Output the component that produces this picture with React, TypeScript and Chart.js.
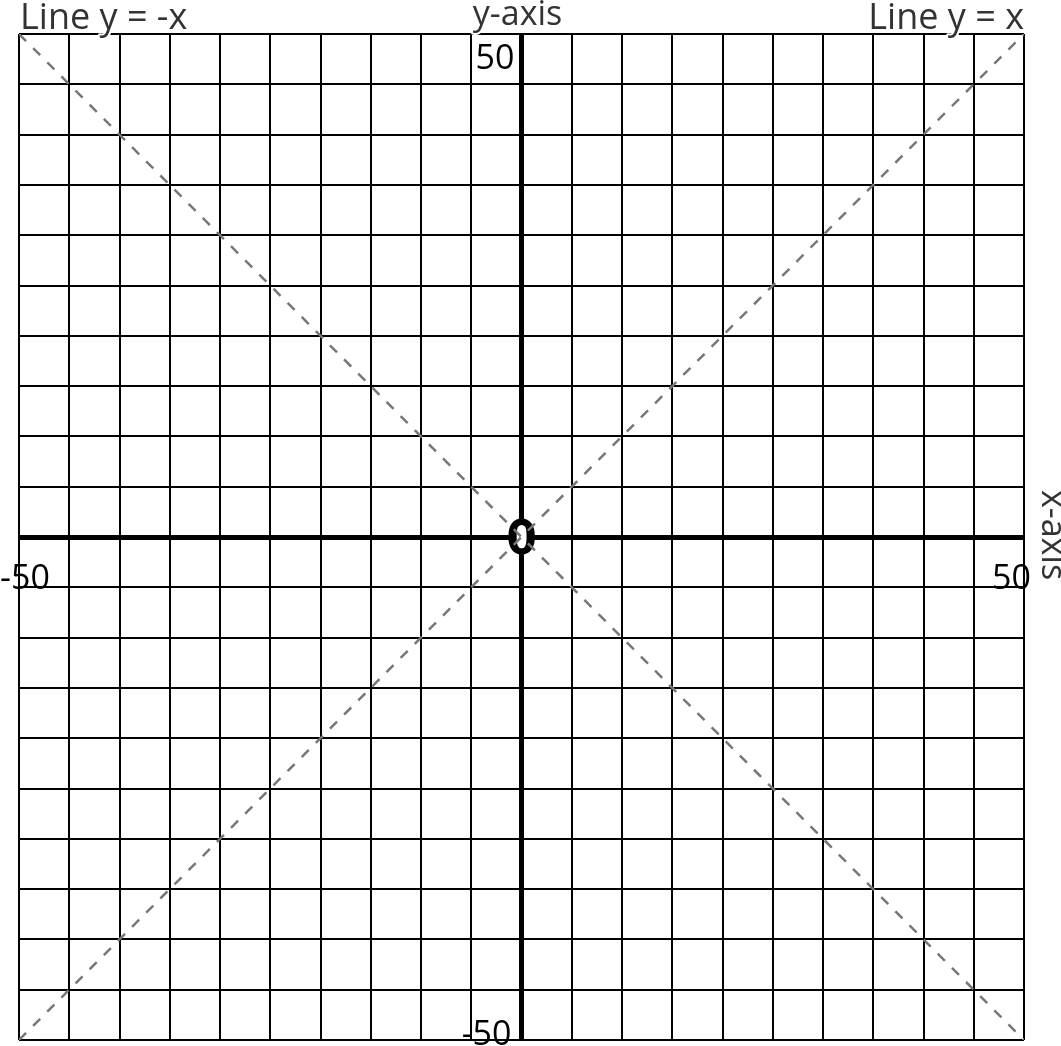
import React, { useEffect, useRef } from "react";
import { Chart, registerables } from "chart.js";

Chart.register(...registerables);

const axisMin = -50;
const axisMax = 50;
const gridStep = 5;
const lineYeqX = [
  { x: -50, y: -50 },
  { x: 50, y: 50 },
];
const lineYeqNegX = [
  { x: -50, y: 50 },
  { x: 50, y: -50 },
];
const cornerLabels = ["Line y = -x", "y-axis", "Line y = x", "x-axis"];
const axisNumbers = ["50", "-50", "0"];

const FONT = '"Open Sans", "DejaVu Sans", sans-serif';

const labelPlugin = {
  id: "labels",
  beforeDatasetsDraw(chart: any) {
    const ctx = chart.ctx;
    const xs = chart.scales.x;
    const ys = chart.scales.y;
    const ox = xs.getPixelForValue(0);
    const oy = ys.getPixelForValue(0);
    ctx.save();
    ctx.fillStyle = "#fff";
    ctx.beginPath();
    ctx.ellipse(ox, oy, 8, 12, 0, 0, Math.PI * 2);
    ctx.fill();
    ctx.fillStyle = "#000";
    ctx.font = `bold 48px "DejaVu Sans", sans-serif`;
    ctx.textAlign = "center";
    ctx.textBaseline = "alphabetic";
    ctx.translate(ox, oy + 17);
    ctx.scale(0.92, 1);
    ctx.fillText(axisNumbers[2], 0, 0);
    ctx.restore();
  },
  afterDraw(chart: any) {
    const ctx = chart.ctx;
    const xs = chart.scales.x;
    const ys = chart.scales.y;
    const ox = xs.getPixelForValue(0);
    const oy = ys.getPixelForValue(0);
    const { left, right, top, bottom } = chart.chartArea;
    ctx.save();
    const txt = (s: string, x: number, y: number, align: any, color: string, size: number, stroke = true) => {
      ctx.font = `${size}px ${FONT}`;
      ctx.textAlign = align;
      ctx.textBaseline = "alphabetic";
      if (stroke) {
        ctx.strokeStyle = "#fff";
        ctx.lineWidth = 4;
        ctx.lineJoin = "round";
        ctx.strokeText(s, x, y);
      }
      ctx.fillStyle = color;
      ctx.fillText(s, x, y);
    };
    txt(cornerLabels[0], left + 1, top - 5, "left", "#333", 36);
    txt(cornerLabels[1], ox - 4, top - 9, "center", "#333", 34);
    txt(cornerLabels[2], right, top - 5, "right", "#333", 36);
    txt(axisNumbers[0], ox - 7, top + 35, "right", "#000", 34, false);
    txt(axisNumbers[1], 0, oy + 52, "left", "#000", 34, false);
    txt(axisNumbers[0], right + 7, oy + 52, "right", "#000", 34, false);
    txt(axisNumbers[1], ox - 10, bottom + 5, "right", "#000", 34, false);
    ctx.translate(right + 11, oy - 2);
    ctx.rotate(Math.PI / 2);
    ctx.font = `34px ${FONT}`;
    ctx.textAlign = "center";
    ctx.textBaseline = "bottom";
    ctx.fillStyle = "#333";
    ctx.fillText(cornerLabels[3], 0, 0);
    ctx.restore();
  },
};

export default function App() {
  const ref = useRef<HTMLCanvasElement>(null);
  useEffect(() => {
    if (!ref.current) return;
    const gridWidth = (c: any) => (c.tick && c.tick.value === 0 ? 5 : 2);
    const scale = {
      type: "linear" as const,
      min: axisMin,
      max: axisMax,
      ticks: { display: false, stepSize: gridStep },
      grid: { color: "#000", lineWidth: gridWidth, drawTicks: false },
      border: { display: false },
      title: { display: false },
    };
    const ds = {
      showLine: true,
      borderColor: "#777",
      borderWidth: 2.5,
      borderDash: [10, 10],
      pointRadius: 0,
    };
    const chart = new Chart(ref.current, {
      type: "scatter",
      data: {
        datasets: [
          { ...ds, data: lineYeqX },
          { ...ds, data: lineYeqNegX },
        ],
      },
      options: {
        responsive: false,
        animation: false,
        layout: { padding: { left: 19, top: 34, right: 37, bottom: 6 } },
        plugins: { legend: { display: false }, tooltip: { enabled: false } },
        scales: { x: scale, y: scale } as any,
      },
      plugins: [labelPlugin],
    });
    return () => chart.destroy();
  }, []);
  return (
    <div style={{ position: "absolute", left: 0, top: 0, width: 1061, height: 1046, background: "#fff" }}>
      <canvas ref={ref} width={1061} height={1046} style={{ width: 1061, height: 1046 }} />
    </div>
  );
}
